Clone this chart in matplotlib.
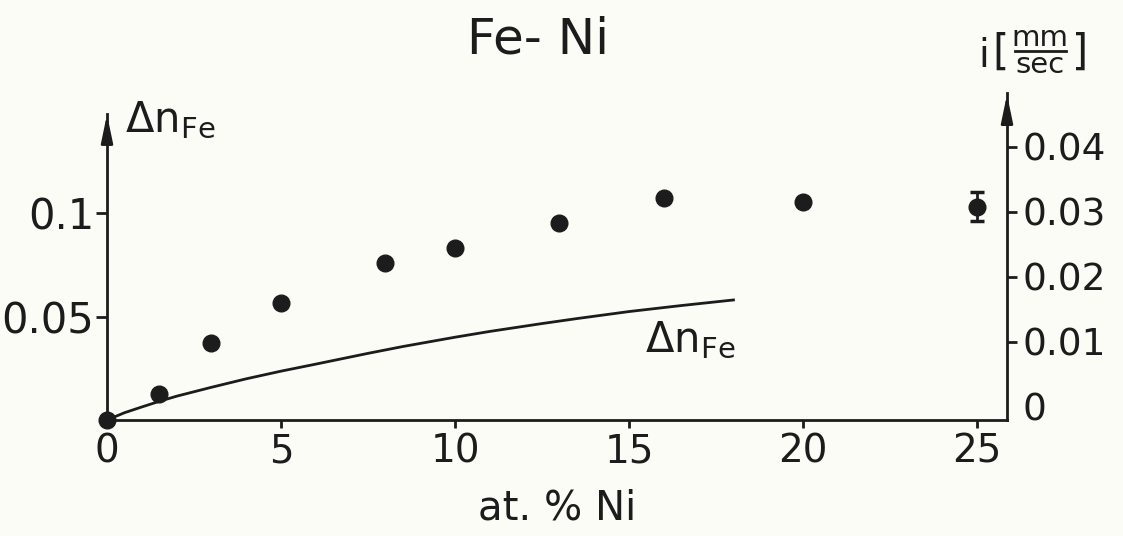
import numpy as np
import matplotlib
matplotlib.use('Agg')
import matplotlib.pyplot as plt
from matplotlib.lines import Line2D

# values
ni = [1.5, 3, 5, 8, 10, 13, 16, 20, 25]
i_vel = [0.0020, 0.0098, 0.0160, 0.0222, 0.0245, 0.0283, 0.0322, 0.0315, 0.0308]
i_err = [0, 0, 0, 0, 0, 0, 0, 0, 0.0022]

curve_x = [0, 0.5, 1, 1.5, 2, 3, 4, 5, 6, 7.5, 8.5, 10, 11, 12.5, 13.5, 15, 16.5, 18]
curve_dn = [0, 0.0035, 0.0063, 0.0090, 0.0115, 0.0158, 0.0199, 0.0236, 0.0270,
            0.0322, 0.0355, 0.0400, 0.0428, 0.0466, 0.0490, 0.0524, 0.0553, 0.0580]

x_ticks = [0, 5, 10, 15, 20, 25]
left_ticks = [0.05, 0.1]
left_labels = ['0.05', '0.1']
right_ticks = [0, 0.01, 0.02, 0.03, 0.04]
right_labels = ['0', '0.01', '0.02', '0.03', '0.04']

W, H = 1123, 536
ink = '#1c1c1c'
bg = '#fcfcf7'
plt.rcParams['mathtext.fontset'] = 'dejavusans'

def px(x, y):
    return x / W, 1 - y / H

fig = plt.figure(figsize=(W / 100, H / 100), dpi=100, facecolor=bg)
ax = fig.add_axes([107 / W, (H - 420) / H, 900 / W, 327 / H])
ax.set_facecolor('none')
ax2 = ax.twinx()

ax.set_xlim(0, 25.86)
ax.set_ylim(0, 0.158)
ax2.set_ylim(-0.002, 0.0483)

# Delta n_Fe curve, left axis
ax.plot(curve_x, curve_dn, color=ink, lw=2.0, clip_on=False, solid_joinstyle='round')
ax.plot([0], [0], 'o', color=ink, ms=12, clip_on=False, zorder=5)

# measured points, right axis
ax2.errorbar(ni, i_vel, yerr=i_err, fmt='o', color=ink, ms=12,
             elinewidth=2, capsize=5, capthick=2.5, clip_on=False)

for s in ['top', 'right']:
    ax.spines[s].set_visible(False)
for s in ['top', 'left', 'bottom']:
    ax2.spines[s].set_visible(False)
ax.spines['left'].set_bounds(0, 0.148)
for s in ['left', 'bottom']:
    ax.spines[s].set_linewidth(2)
    ax.spines[s].set_color(ink)
ax2.spines['right'].set_linewidth(2)
ax2.spines['right'].set_color(ink)

# arrow heads on the vertical axes
ax.annotate('', xy=(0, 0.149), xytext=(0, 0.135),
            xycoords=('axes fraction', 'data'),
            arrowprops=dict(arrowstyle='-|>,head_length=1.2,head_width=0.25',
                            color=ink, lw=2, mutation_scale=14))
ax2.annotate('', xy=(1, 0.0485), xytext=(1, 0.044),
             xycoords=('axes fraction', 'data'),
             arrowprops=dict(arrowstyle='-|>,head_length=1.2,head_width=0.25',
                             color=ink, lw=2, mutation_scale=14))

ax.set_xticks(x_ticks)
ax.set_xticklabels([str(t) for t in x_ticks])
ax.tick_params(axis='x', direction='out', length=6, width=2, color=ink,
               labelsize=28, labelcolor=ink, pad=3)
ax.set_yticks(left_ticks)
ax.set_yticklabels(left_labels)
ax.tick_params(axis='y', direction='out', length=8, width=2, color=ink,
               labelsize=30, labelcolor=ink, pad=1)

ax2.set_yticks(right_ticks)
ax2.set_yticklabels(right_labels)
ax2.tick_params(axis='y', direction='out', length=7, width=2, color=ink,
                labelsize=27, labelcolor=ink, pad=4)
ax2.yaxis.get_major_ticks()[0].tick2line.set_visible(False)

# texts
fig.text(*px(538, 40), 'Fe- Ni', fontsize=36, color=ink, ha='center', va='center')
fig.text(*px(557, 508), 'at. % Ni', fontsize=29, color=ink, ha='center', va='center')
fig.text(*px(125, 120), r'$\Delta\mathrm{n}_{\mathrm{Fe}}$', fontsize=30, color=ink,
         ha='left', va='center')
fig.text(*px(645, 340), r'$\Delta\mathrm{n}_{\mathrm{Fe}}$', fontsize=30, color=ink,
         ha='left', va='center')

# right axis unit label: i [mm/sec]
fig.text(*px(984, 56), 'i', fontsize=28, color=ink, ha='center', va='center')
fig.text(*px(1000, 53), '[', fontsize=30, color=ink, ha='center', va='center')
fig.text(*px(1080, 53), ']', fontsize=30, color=ink, ha='center', va='center')
fig.text(*px(1040, 38), 'mm', fontsize=21, color=ink, ha='center', va='center')
fig.text(*px(1040, 65), 'sec', fontsize=21, color=ink, ha='center', va='center')
fig.add_artist(Line2D([1015 / W, 1066 / W], [1 - 51 / H, 1 - 51 / H],
                      color=ink, lw=2))

fig.savefig('out.png', dpi=100, facecolor=bg)
